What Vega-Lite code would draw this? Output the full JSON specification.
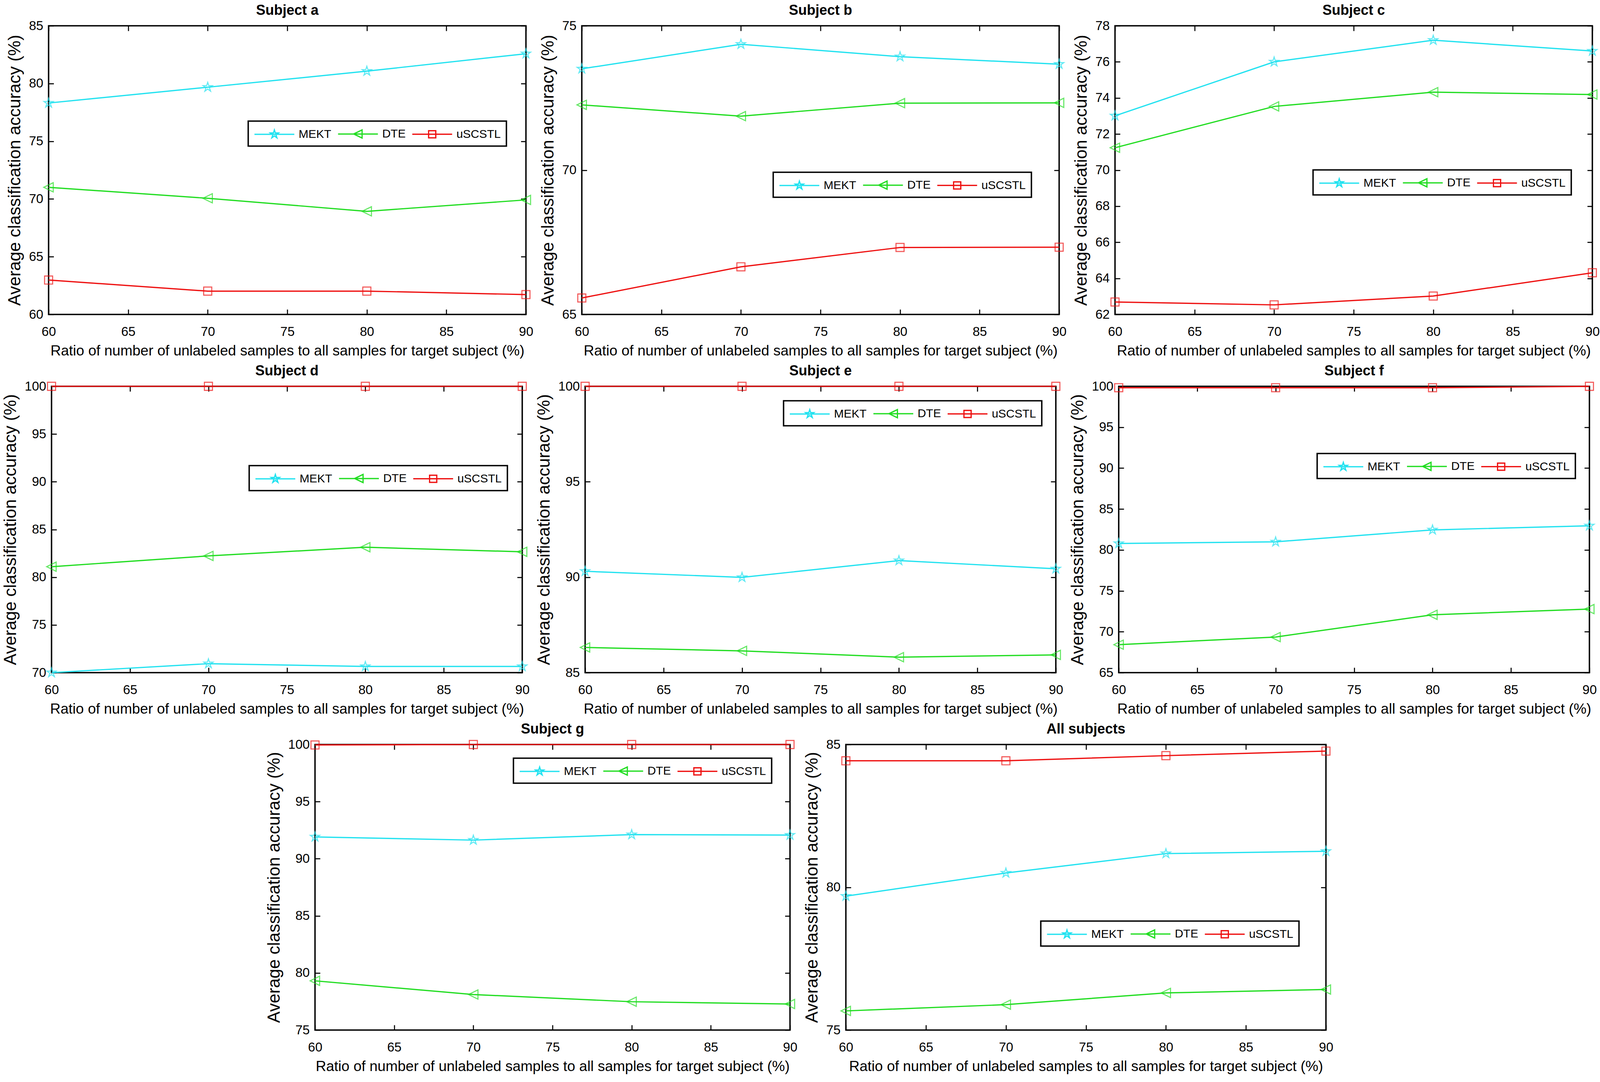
{
  "$schema": "https://vega.github.io/schema/vega-lite/v6.json",
  "background": "white",
  "padding": {"left": 4, "top": 7, "right": 0, "bottom": 0},
  "data": {"values": [
    {"subject":"Subject a","method":"MEKT","ratio":60,"accuracy":78.31},
    {"subject":"Subject a","method":"MEKT","ratio":70,"accuracy":79.68},
    {"subject":"Subject a","method":"MEKT","ratio":80,"accuracy":81.07},
    {"subject":"Subject a","method":"MEKT","ratio":90,"accuracy":82.58},
    {"subject":"Subject a","method":"DTE","ratio":60,"accuracy":71.01},
    {"subject":"Subject a","method":"DTE","ratio":70,"accuracy":70.06},
    {"subject":"Subject a","method":"DTE","ratio":80,"accuracy":68.93},
    {"subject":"Subject a","method":"DTE","ratio":90,"accuracy":69.92},
    {"subject":"Subject a","method":"uSCSTL","ratio":60,"accuracy":62.98},
    {"subject":"Subject a","method":"uSCSTL","ratio":70,"accuracy":62.02},
    {"subject":"Subject a","method":"uSCSTL","ratio":80,"accuracy":62.02},
    {"subject":"Subject a","method":"uSCSTL","ratio":90,"accuracy":61.72},
    {"subject":"Subject b","method":"MEKT","ratio":60,"accuracy":73.51},
    {"subject":"Subject b","method":"MEKT","ratio":70,"accuracy":74.36},
    {"subject":"Subject b","method":"MEKT","ratio":80,"accuracy":73.93},
    {"subject":"Subject b","method":"MEKT","ratio":90,"accuracy":73.67},
    {"subject":"Subject b","method":"DTE","ratio":60,"accuracy":72.26},
    {"subject":"Subject b","method":"DTE","ratio":70,"accuracy":71.87},
    {"subject":"Subject b","method":"DTE","ratio":80,"accuracy":72.32},
    {"subject":"Subject b","method":"DTE","ratio":90,"accuracy":72.33},
    {"subject":"Subject b","method":"uSCSTL","ratio":60,"accuracy":65.57},
    {"subject":"Subject b","method":"uSCSTL","ratio":70,"accuracy":66.65},
    {"subject":"Subject b","method":"uSCSTL","ratio":80,"accuracy":67.32},
    {"subject":"Subject b","method":"uSCSTL","ratio":90,"accuracy":67.33},
    {"subject":"Subject c","method":"MEKT","ratio":60,"accuracy":73.01},
    {"subject":"Subject c","method":"MEKT","ratio":70,"accuracy":76.0},
    {"subject":"Subject c","method":"MEKT","ratio":80,"accuracy":77.2},
    {"subject":"Subject c","method":"MEKT","ratio":90,"accuracy":76.6},
    {"subject":"Subject c","method":"DTE","ratio":60,"accuracy":71.24},
    {"subject":"Subject c","method":"DTE","ratio":70,"accuracy":73.53},
    {"subject":"Subject c","method":"DTE","ratio":80,"accuracy":74.32},
    {"subject":"Subject c","method":"DTE","ratio":90,"accuracy":74.19},
    {"subject":"Subject c","method":"uSCSTL","ratio":60,"accuracy":62.69},
    {"subject":"Subject c","method":"uSCSTL","ratio":70,"accuracy":62.53},
    {"subject":"Subject c","method":"uSCSTL","ratio":80,"accuracy":63.02},
    {"subject":"Subject c","method":"uSCSTL","ratio":90,"accuracy":64.31},
    {"subject":"Subject d","method":"MEKT","ratio":60,"accuracy":70.0},
    {"subject":"Subject d","method":"MEKT","ratio":70,"accuracy":70.94},
    {"subject":"Subject d","method":"MEKT","ratio":80,"accuracy":70.65},
    {"subject":"Subject d","method":"MEKT","ratio":90,"accuracy":70.65},
    {"subject":"Subject d","method":"DTE","ratio":60,"accuracy":81.1},
    {"subject":"Subject d","method":"DTE","ratio":70,"accuracy":82.23},
    {"subject":"Subject d","method":"DTE","ratio":80,"accuracy":83.14},
    {"subject":"Subject d","method":"DTE","ratio":90,"accuracy":82.66},
    {"subject":"Subject d","method":"uSCSTL","ratio":60,"accuracy":100},
    {"subject":"Subject d","method":"uSCSTL","ratio":70,"accuracy":100},
    {"subject":"Subject d","method":"uSCSTL","ratio":80,"accuracy":100},
    {"subject":"Subject d","method":"uSCSTL","ratio":90,"accuracy":100},
    {"subject":"Subject e","method":"MEKT","ratio":60,"accuracy":90.31},
    {"subject":"Subject e","method":"MEKT","ratio":70,"accuracy":89.99},
    {"subject":"Subject e","method":"MEKT","ratio":80,"accuracy":90.87},
    {"subject":"Subject e","method":"MEKT","ratio":90,"accuracy":90.44},
    {"subject":"Subject e","method":"DTE","ratio":60,"accuracy":86.32},
    {"subject":"Subject e","method":"DTE","ratio":70,"accuracy":86.14},
    {"subject":"Subject e","method":"DTE","ratio":80,"accuracy":85.81},
    {"subject":"Subject e","method":"DTE","ratio":90,"accuracy":85.93},
    {"subject":"Subject e","method":"uSCSTL","ratio":60,"accuracy":100},
    {"subject":"Subject e","method":"uSCSTL","ratio":70,"accuracy":100},
    {"subject":"Subject e","method":"uSCSTL","ratio":80,"accuracy":100},
    {"subject":"Subject e","method":"uSCSTL","ratio":90,"accuracy":100},
    {"subject":"Subject f","method":"MEKT","ratio":60,"accuracy":80.79},
    {"subject":"Subject f","method":"MEKT","ratio":70,"accuracy":80.99},
    {"subject":"Subject f","method":"MEKT","ratio":80,"accuracy":82.45},
    {"subject":"Subject f","method":"MEKT","ratio":90,"accuracy":82.95},
    {"subject":"Subject f","method":"DTE","ratio":60,"accuracy":68.42},
    {"subject":"Subject f","method":"DTE","ratio":70,"accuracy":69.35},
    {"subject":"Subject f","method":"DTE","ratio":80,"accuracy":72.07},
    {"subject":"Subject f","method":"DTE","ratio":90,"accuracy":72.77},
    {"subject":"Subject f","method":"uSCSTL","ratio":60,"accuracy":99.83},
    {"subject":"Subject f","method":"uSCSTL","ratio":70,"accuracy":99.83},
    {"subject":"Subject f","method":"uSCSTL","ratio":80,"accuracy":99.83},
    {"subject":"Subject f","method":"uSCSTL","ratio":90,"accuracy":100},
    {"subject":"Subject g","method":"MEKT","ratio":60,"accuracy":91.91},
    {"subject":"Subject g","method":"MEKT","ratio":70,"accuracy":91.63},
    {"subject":"Subject g","method":"MEKT","ratio":80,"accuracy":92.11},
    {"subject":"Subject g","method":"MEKT","ratio":90,"accuracy":92.07},
    {"subject":"Subject g","method":"DTE","ratio":60,"accuracy":79.31},
    {"subject":"Subject g","method":"DTE","ratio":70,"accuracy":78.11},
    {"subject":"Subject g","method":"DTE","ratio":80,"accuracy":77.48},
    {"subject":"Subject g","method":"DTE","ratio":90,"accuracy":77.28},
    {"subject":"Subject g","method":"uSCSTL","ratio":60,"accuracy":99.96},
    {"subject":"Subject g","method":"uSCSTL","ratio":70,"accuracy":100},
    {"subject":"Subject g","method":"uSCSTL","ratio":80,"accuracy":100},
    {"subject":"Subject g","method":"uSCSTL","ratio":90,"accuracy":100},
    {"subject":"All subjects","method":"MEKT","ratio":60,"accuracy":79.69},
    {"subject":"All subjects","method":"MEKT","ratio":70,"accuracy":80.5},
    {"subject":"All subjects","method":"MEKT","ratio":80,"accuracy":81.18},
    {"subject":"All subjects","method":"MEKT","ratio":90,"accuracy":81.26},
    {"subject":"All subjects","method":"DTE","ratio":60,"accuracy":75.67},
    {"subject":"All subjects","method":"DTE","ratio":70,"accuracy":75.89},
    {"subject":"All subjects","method":"DTE","ratio":80,"accuracy":76.3},
    {"subject":"All subjects","method":"DTE","ratio":90,"accuracy":76.42},
    {"subject":"All subjects","method":"uSCSTL","ratio":60,"accuracy":84.43},
    {"subject":"All subjects","method":"uSCSTL","ratio":70,"accuracy":84.43},
    {"subject":"All subjects","method":"uSCSTL","ratio":80,"accuracy":84.61},
    {"subject":"All subjects","method":"uSCSTL","ratio":90,"accuracy":84.77}
  ]},
  "config": {
    "view": {"stroke": "black", "strokeWidth": 3.6},
    "title": {"font": "Liberation Sans", "fontSize": 36, "fontWeight": "bold", "color": "black", "offset": 0},
    "axis": {"labelFont": "Liberation Sans", "labelFontSize": 33, "labelColor": "black", "labelFlush": false, "titleFont": "Liberation Sans", "titleFontWeight": "normal", "titleColor": "black", "tickColor": "black", "tickWidth": 2.7, "tickSize": -13, "domain": false, "grid": false},
    "axisX": {"labelPadding": 41, "titleFontSize": 37, "titlePadding": 14},
    "axisY": {"labelPadding": 27, "titleFontSize": 44, "titlePadding": 13},
    "legend": {"labelFont": "Liberation Sans", "labelFontSize": 30, "labelColor": "black", "strokeColor": "black", "strokeWidth": 3.6, "fillColor": "white", "padding": 14, "symbolSize": 1156, "symbolStrokeWidth": 3.2, "symbolOpacity": 1, "labelOffset": 77, "columnPadding": 10, "direction": "horizontal", "orient": "none"}
  },
  "vconcat": [
    {"hconcat": [
      {"title": "Subject a", "width": 1222, "height": 739,
       "transform": [{"filter": {"field": "subject", "equal": "Subject a"}}],
       "resolve": {"scale": {"color": "independent", "shape": "independent"}, "axis": {"x": "independent", "y": "independent"}},
       "layer": [
        {"mark": {"type": "line", "strokeWidth": 3.2, "clip": false},
         "encoding": {
          "x": {"field": "ratio", "type": "quantitative", "scale": {"domain": [60, 90], "nice": false, "zero": false}, "axis": {"orient": "bottom", "values": [60,65,70,75,80,85,90], "title": "Ratio of number of unlabeled samples to all samples for target subject (%)"}},
          "y": {"field": "accuracy", "type": "quantitative", "scale": {"domain": [60, 85], "nice": false, "zero": false}, "axis": {"orient": "left", "values": [60,65,70,75,80,85], "title": "Average classification accuracy (%)"}},
          "color": {"field": "method", "type": "nominal", "scale": {"domain": ["MEKT","DTE","uSCSTL"], "range": ["#22E2F0","#22DD22","#EE1111"]}, "legend": null}}},
        {"mark": {"type": "point", "filled": false, "size": 620, "strokeWidth": 2.7, "clip": false},
         "encoding": {
          "x": {"field": "ratio", "type": "quantitative", "axis": {"orient": "top", "values": [60,65,70,75,80,85,90], "labels": false, "title": null}},
          "y": {"field": "accuracy", "type": "quantitative", "axis": {"orient": "right", "values": [60,65,70,75,80,85], "labels": false, "title": null}},
          "color": {"field": "method", "type": "nominal", "scale": {"domain": ["MEKT","DTE","uSCSTL"], "range": ["#22E2F0","#22DD22","#EE1111"]}, "legend": null},
          "shape": {"field": "method", "type": "nominal", "scale": {"domain": ["MEKT","DTE","uSCSTL"], "range": ["M0,-1L0.2233,-0.3074L0.951,-0.309L0.3614,0.1174L0.588,0.809L0,0.38L-0.588,0.809L-0.3614,0.1174L-0.951,-0.309L-0.2233,-0.3074Z","M-1,0L0.95,-0.95L0.95,0.95Z","M-0.83,-0.83L0.83,-0.83L0.83,0.83L-0.83,0.83Z"]}, "legend": null}}},
        {"mark": {"type": "point", "filled": false, "size": 1156, "strokeWidth": 3.2},
         "transform": [{"filter": {"field": "accuracy", "lt": 0}}],
         "encoding": {
          "x": {"field": "ratio", "type": "quantitative", "axis": null},
          "y": {"field": "accuracy", "type": "quantitative", "axis": null},
          "color": {"field": "method", "type": "nominal", "scale": {"domain": ["MEKT","DTE","uSCSTL"], "range": ["#22E2F0","#22DD22","#EE1111"]}, "legend": {"title": null, "orient": "none", "legendX": 511, "legendY": 244, "direction": "horizontal"}},
          "shape": {"field": "method", "type": "nominal", "scale": {"domain": ["MEKT","DTE","uSCSTL"], "range": ["M-1,0L5,0M2,-0.65L2.145,-0.2L2.618,-0.201L2.235,0.076L2.382,0.526L2,0.247L1.618,0.526L1.765,0.076L1.382,-0.201L1.855,-0.2Z","M-1,0L5,0M1.35,0L2.618,-0.618L2.618,0.618Z","M-1,0L5,0M1.46,-0.54L2.54,-0.54L2.54,0.54L1.46,0.54Z"]}, "legend": {"title": null, "orient": "none", "legendX": 511, "legendY": 244, "direction": "horizontal"}}}}
       ]},
      {"title": "Subject b", "width": 1222, "height": 739,
       "transform": [{"filter": {"field": "subject", "equal": "Subject b"}}],
       "resolve": {"scale": {"color": "independent", "shape": "independent"}, "axis": {"x": "independent", "y": "independent"}},
       "layer": [
        {"mark": {"type": "line", "strokeWidth": 3.2, "clip": false},
         "encoding": {
          "x": {"field": "ratio", "type": "quantitative", "scale": {"domain": [60, 90], "nice": false, "zero": false}, "axis": {"orient": "bottom", "values": [60,65,70,75,80,85,90], "title": "Ratio of number of unlabeled samples to all samples for target subject (%)"}},
          "y": {"field": "accuracy", "type": "quantitative", "scale": {"domain": [65, 75], "nice": false, "zero": false}, "axis": {"orient": "left", "values": [65,70,75], "title": "Average classification accuracy (%)"}},
          "color": {"field": "method", "type": "nominal", "scale": {"domain": ["MEKT","DTE","uSCSTL"], "range": ["#22E2F0","#22DD22","#EE1111"]}, "legend": null}}},
        {"mark": {"type": "point", "filled": false, "size": 620, "strokeWidth": 2.7, "clip": false},
         "encoding": {
          "x": {"field": "ratio", "type": "quantitative", "axis": {"orient": "top", "values": [60,65,70,75,80,85,90], "labels": false, "title": null}},
          "y": {"field": "accuracy", "type": "quantitative", "axis": {"orient": "right", "values": [65,70,75], "labels": false, "title": null}},
          "color": {"field": "method", "type": "nominal", "scale": {"domain": ["MEKT","DTE","uSCSTL"], "range": ["#22E2F0","#22DD22","#EE1111"]}, "legend": null},
          "shape": {"field": "method", "type": "nominal", "scale": {"domain": ["MEKT","DTE","uSCSTL"], "range": ["M0,-1L0.2233,-0.3074L0.951,-0.309L0.3614,0.1174L0.588,0.809L0,0.38L-0.588,0.809L-0.3614,0.1174L-0.951,-0.309L-0.2233,-0.3074Z","M-1,0L0.95,-0.95L0.95,0.95Z","M-0.83,-0.83L0.83,-0.83L0.83,0.83L-0.83,0.83Z"]}, "legend": null}}},
        {"mark": {"type": "point", "filled": false, "size": 1156, "strokeWidth": 3.2},
         "transform": [{"filter": {"field": "accuracy", "lt": 0}}],
         "encoding": {
          "x": {"field": "ratio", "type": "quantitative", "axis": null},
          "y": {"field": "accuracy", "type": "quantitative", "axis": null},
          "color": {"field": "method", "type": "nominal", "scale": {"domain": ["MEKT","DTE","uSCSTL"], "range": ["#22E2F0","#22DD22","#EE1111"]}, "legend": {"title": null, "orient": "none", "legendX": 490, "legendY": 375, "direction": "horizontal"}},
          "shape": {"field": "method", "type": "nominal", "scale": {"domain": ["MEKT","DTE","uSCSTL"], "range": ["M-1,0L5,0M2,-0.65L2.145,-0.2L2.618,-0.201L2.235,0.076L2.382,0.526L2,0.247L1.618,0.526L1.765,0.076L1.382,-0.201L1.855,-0.2Z","M-1,0L5,0M1.35,0L2.618,-0.618L2.618,0.618Z","M-1,0L5,0M1.46,-0.54L2.54,-0.54L2.54,0.54L1.46,0.54Z"]}, "legend": {"title": null, "orient": "none", "legendX": 490, "legendY": 375, "direction": "horizontal"}}}}
       ]},
      {"title": "Subject c", "width": 1222, "height": 739,
       "transform": [{"filter": {"field": "subject", "equal": "Subject c"}}],
       "resolve": {"scale": {"color": "independent", "shape": "independent"}, "axis": {"x": "independent", "y": "independent"}},
       "layer": [
        {"mark": {"type": "line", "strokeWidth": 3.2, "clip": false},
         "encoding": {
          "x": {"field": "ratio", "type": "quantitative", "scale": {"domain": [60, 90], "nice": false, "zero": false}, "axis": {"orient": "bottom", "values": [60,65,70,75,80,85,90], "title": "Ratio of number of unlabeled samples to all samples for target subject (%)"}},
          "y": {"field": "accuracy", "type": "quantitative", "scale": {"domain": [62, 78], "nice": false, "zero": false}, "axis": {"orient": "left", "values": [62,64,66,68,70,72,74,76,78], "title": "Average classification accuracy (%)"}},
          "color": {"field": "method", "type": "nominal", "scale": {"domain": ["MEKT","DTE","uSCSTL"], "range": ["#22E2F0","#22DD22","#EE1111"]}, "legend": null}}},
        {"mark": {"type": "point", "filled": false, "size": 620, "strokeWidth": 2.7, "clip": false},
         "encoding": {
          "x": {"field": "ratio", "type": "quantitative", "axis": {"orient": "top", "values": [60,65,70,75,80,85,90], "labels": false, "title": null}},
          "y": {"field": "accuracy", "type": "quantitative", "axis": {"orient": "right", "values": [62,64,66,68,70,72,74,76,78], "labels": false, "title": null}},
          "color": {"field": "method", "type": "nominal", "scale": {"domain": ["MEKT","DTE","uSCSTL"], "range": ["#22E2F0","#22DD22","#EE1111"]}, "legend": null},
          "shape": {"field": "method", "type": "nominal", "scale": {"domain": ["MEKT","DTE","uSCSTL"], "range": ["M0,-1L0.2233,-0.3074L0.951,-0.309L0.3614,0.1174L0.588,0.809L0,0.38L-0.588,0.809L-0.3614,0.1174L-0.951,-0.309L-0.2233,-0.3074Z","M-1,0L0.95,-0.95L0.95,0.95Z","M-0.83,-0.83L0.83,-0.83L0.83,0.83L-0.83,0.83Z"]}, "legend": null}}},
        {"mark": {"type": "point", "filled": false, "size": 1156, "strokeWidth": 3.2},
         "transform": [{"filter": {"field": "accuracy", "lt": 0}}],
         "encoding": {
          "x": {"field": "ratio", "type": "quantitative", "axis": null},
          "y": {"field": "accuracy", "type": "quantitative", "axis": null},
          "color": {"field": "method", "type": "nominal", "scale": {"domain": ["MEKT","DTE","uSCSTL"], "range": ["#22E2F0","#22DD22","#EE1111"]}, "legend": {"title": null, "orient": "none", "legendX": 507, "legendY": 369, "direction": "horizontal"}},
          "shape": {"field": "method", "type": "nominal", "scale": {"domain": ["MEKT","DTE","uSCSTL"], "range": ["M-1,0L5,0M2,-0.65L2.145,-0.2L2.618,-0.201L2.235,0.076L2.382,0.526L2,0.247L1.618,0.526L1.765,0.076L1.382,-0.201L1.855,-0.2Z","M-1,0L5,0M1.35,0L2.618,-0.618L2.618,0.618Z","M-1,0L5,0M1.46,-0.54L2.54,-0.54L2.54,0.54L1.46,0.54Z"]}, "legend": {"title": null, "orient": "none", "legendX": 507, "legendY": 369, "direction": "horizontal"}}}}
       ]}
    ], "spacing": 12, "resolve": {"scale": {"color": "independent", "shape": "independent"}, "legend": {"color": "independent", "shape": "independent"}}},
    {"hconcat": [
      {"title": "Subject d", "width": 1205, "height": 733,
       "transform": [{"filter": {"field": "subject", "equal": "Subject d"}}],
       "resolve": {"scale": {"color": "independent", "shape": "independent"}, "axis": {"x": "independent", "y": "independent"}},
       "layer": [
        {"mark": {"type": "line", "strokeWidth": 3.2, "clip": false},
         "encoding": {
          "x": {"field": "ratio", "type": "quantitative", "scale": {"domain": [60, 90], "nice": false, "zero": false}, "axis": {"orient": "bottom", "values": [60,65,70,75,80,85,90], "title": "Ratio of number of unlabeled samples to all samples for target subject (%)"}},
          "y": {"field": "accuracy", "type": "quantitative", "scale": {"domain": [70, 100], "nice": false, "zero": false}, "axis": {"orient": "left", "values": [70,75,80,85,90,95,100], "title": "Average classification accuracy (%)"}},
          "color": {"field": "method", "type": "nominal", "scale": {"domain": ["MEKT","DTE","uSCSTL"], "range": ["#22E2F0","#22DD22","#EE1111"]}, "legend": null}}},
        {"mark": {"type": "point", "filled": false, "size": 620, "strokeWidth": 2.7, "clip": false},
         "encoding": {
          "x": {"field": "ratio", "type": "quantitative", "axis": {"orient": "top", "values": [60,65,70,75,80,85,90], "labels": false, "title": null}},
          "y": {"field": "accuracy", "type": "quantitative", "axis": {"orient": "right", "values": [70,75,80,85,90,95,100], "labels": false, "title": null}},
          "color": {"field": "method", "type": "nominal", "scale": {"domain": ["MEKT","DTE","uSCSTL"], "range": ["#22E2F0","#22DD22","#EE1111"]}, "legend": null},
          "shape": {"field": "method", "type": "nominal", "scale": {"domain": ["MEKT","DTE","uSCSTL"], "range": ["M0,-1L0.2233,-0.3074L0.951,-0.309L0.3614,0.1174L0.588,0.809L0,0.38L-0.588,0.809L-0.3614,0.1174L-0.951,-0.309L-0.2233,-0.3074Z","M-1,0L0.95,-0.95L0.95,0.95Z","M-0.83,-0.83L0.83,-0.83L0.83,0.83L-0.83,0.83Z"]}, "legend": null}}},
        {"mark": {"type": "point", "filled": false, "size": 1156, "strokeWidth": 3.2},
         "transform": [{"filter": {"field": "accuracy", "lt": 0}}],
         "encoding": {
          "x": {"field": "ratio", "type": "quantitative", "axis": null},
          "y": {"field": "accuracy", "type": "quantitative", "axis": null},
          "color": {"field": "method", "type": "nominal", "scale": {"domain": ["MEKT","DTE","uSCSTL"], "range": ["#22E2F0","#22DD22","#EE1111"]}, "legend": {"title": null, "orient": "none", "legendX": 506, "legendY": 203, "direction": "horizontal"}},
          "shape": {"field": "method", "type": "nominal", "scale": {"domain": ["MEKT","DTE","uSCSTL"], "range": ["M-1,0L5,0M2,-0.65L2.145,-0.2L2.618,-0.201L2.235,0.076L2.382,0.526L2,0.247L1.618,0.526L1.765,0.076L1.382,-0.201L1.855,-0.2Z","M-1,0L5,0M1.35,0L2.618,-0.618L2.618,0.618Z","M-1,0L5,0M1.46,-0.54L2.54,-0.54L2.54,0.54L1.46,0.54Z"]}, "legend": {"title": null, "orient": "none", "legendX": 506, "legendY": 203, "direction": "horizontal"}}}}
       ]},
      {"title": "Subject e", "width": 1205, "height": 733,
       "transform": [{"filter": {"field": "subject", "equal": "Subject e"}}],
       "resolve": {"scale": {"color": "independent", "shape": "independent"}, "axis": {"x": "independent", "y": "independent"}},
       "layer": [
        {"mark": {"type": "line", "strokeWidth": 3.2, "clip": false},
         "encoding": {
          "x": {"field": "ratio", "type": "quantitative", "scale": {"domain": [60, 90], "nice": false, "zero": false}, "axis": {"orient": "bottom", "values": [60,65,70,75,80,85,90], "title": "Ratio of number of unlabeled samples to all samples for target subject (%)"}},
          "y": {"field": "accuracy", "type": "quantitative", "scale": {"domain": [85, 100], "nice": false, "zero": false}, "axis": {"orient": "left", "values": [85,90,95,100], "title": "Average classification accuracy (%)"}},
          "color": {"field": "method", "type": "nominal", "scale": {"domain": ["MEKT","DTE","uSCSTL"], "range": ["#22E2F0","#22DD22","#EE1111"]}, "legend": null}}},
        {"mark": {"type": "point", "filled": false, "size": 620, "strokeWidth": 2.7, "clip": false},
         "encoding": {
          "x": {"field": "ratio", "type": "quantitative", "axis": {"orient": "top", "values": [60,65,70,75,80,85,90], "labels": false, "title": null}},
          "y": {"field": "accuracy", "type": "quantitative", "axis": {"orient": "right", "values": [85,90,95,100], "labels": false, "title": null}},
          "color": {"field": "method", "type": "nominal", "scale": {"domain": ["MEKT","DTE","uSCSTL"], "range": ["#22E2F0","#22DD22","#EE1111"]}, "legend": null},
          "shape": {"field": "method", "type": "nominal", "scale": {"domain": ["MEKT","DTE","uSCSTL"], "range": ["M0,-1L0.2233,-0.3074L0.951,-0.309L0.3614,0.1174L0.588,0.809L0,0.38L-0.588,0.809L-0.3614,0.1174L-0.951,-0.309L-0.2233,-0.3074Z","M-1,0L0.95,-0.95L0.95,0.95Z","M-0.83,-0.83L0.83,-0.83L0.83,0.83L-0.83,0.83Z"]}, "legend": null}}},
        {"mark": {"type": "point", "filled": false, "size": 1156, "strokeWidth": 3.2},
         "transform": [{"filter": {"field": "accuracy", "lt": 0}}],
         "encoding": {
          "x": {"field": "ratio", "type": "quantitative", "axis": null},
          "y": {"field": "accuracy", "type": "quantitative", "axis": null},
          "color": {"field": "method", "type": "nominal", "scale": {"domain": ["MEKT","DTE","uSCSTL"], "range": ["#22E2F0","#22DD22","#EE1111"]}, "legend": {"title": null, "orient": "none", "legendX": 508, "legendY": 37, "direction": "horizontal"}},
          "shape": {"field": "method", "type": "nominal", "scale": {"domain": ["MEKT","DTE","uSCSTL"], "range": ["M-1,0L5,0M2,-0.65L2.145,-0.2L2.618,-0.201L2.235,0.076L2.382,0.526L2,0.247L1.618,0.526L1.765,0.076L1.382,-0.201L1.855,-0.2Z","M-1,0L5,0M1.35,0L2.618,-0.618L2.618,0.618Z","M-1,0L5,0M1.46,-0.54L2.54,-0.54L2.54,0.54L1.46,0.54Z"]}, "legend": {"title": null, "orient": "none", "legendX": 508, "legendY": 37, "direction": "horizontal"}}}}
       ]},
      {"title": "Subject f", "width": 1205, "height": 733,
       "transform": [{"filter": {"field": "subject", "equal": "Subject f"}}],
       "resolve": {"scale": {"color": "independent", "shape": "independent"}, "axis": {"x": "independent", "y": "independent"}},
       "layer": [
        {"mark": {"type": "line", "strokeWidth": 3.2, "clip": false},
         "encoding": {
          "x": {"field": "ratio", "type": "quantitative", "scale": {"domain": [60, 90], "nice": false, "zero": false}, "axis": {"orient": "bottom", "values": [60,65,70,75,80,85,90], "title": "Ratio of number of unlabeled samples to all samples for target subject (%)"}},
          "y": {"field": "accuracy", "type": "quantitative", "scale": {"domain": [65, 100], "nice": false, "zero": false}, "axis": {"orient": "left", "values": [65,70,75,80,85,90,95,100], "title": "Average classification accuracy (%)"}},
          "color": {"field": "method", "type": "nominal", "scale": {"domain": ["MEKT","DTE","uSCSTL"], "range": ["#22E2F0","#22DD22","#EE1111"]}, "legend": null}}},
        {"mark": {"type": "point", "filled": false, "size": 620, "strokeWidth": 2.7, "clip": false},
         "encoding": {
          "x": {"field": "ratio", "type": "quantitative", "axis": {"orient": "top", "values": [60,65,70,75,80,85,90], "labels": false, "title": null}},
          "y": {"field": "accuracy", "type": "quantitative", "axis": {"orient": "right", "values": [65,70,75,80,85,90,95,100], "labels": false, "title": null}},
          "color": {"field": "method", "type": "nominal", "scale": {"domain": ["MEKT","DTE","uSCSTL"], "range": ["#22E2F0","#22DD22","#EE1111"]}, "legend": null},
          "shape": {"field": "method", "type": "nominal", "scale": {"domain": ["MEKT","DTE","uSCSTL"], "range": ["M0,-1L0.2233,-0.3074L0.951,-0.309L0.3614,0.1174L0.588,0.809L0,0.38L-0.588,0.809L-0.3614,0.1174L-0.951,-0.309L-0.2233,-0.3074Z","M-1,0L0.95,-0.95L0.95,0.95Z","M-0.83,-0.83L0.83,-0.83L0.83,0.83L-0.83,0.83Z"]}, "legend": null}}},
        {"mark": {"type": "point", "filled": false, "size": 1156, "strokeWidth": 3.2},
         "transform": [{"filter": {"field": "accuracy", "lt": 0}}],
         "encoding": {
          "x": {"field": "ratio", "type": "quantitative", "axis": null},
          "y": {"field": "accuracy", "type": "quantitative", "axis": null},
          "color": {"field": "method", "type": "nominal", "scale": {"domain": ["MEKT","DTE","uSCSTL"], "range": ["#22E2F0","#22DD22","#EE1111"]}, "legend": {"title": null, "orient": "none", "legendX": 508, "legendY": 172, "direction": "horizontal"}},
          "shape": {"field": "method", "type": "nominal", "scale": {"domain": ["MEKT","DTE","uSCSTL"], "range": ["M-1,0L5,0M2,-0.65L2.145,-0.2L2.618,-0.201L2.235,0.076L2.382,0.526L2,0.247L1.618,0.526L1.765,0.076L1.382,-0.201L1.855,-0.2Z","M-1,0L5,0M1.35,0L2.618,-0.618L2.618,0.618Z","M-1,0L5,0M1.46,-0.54L2.54,-0.54L2.54,0.54L1.46,0.54Z"]}, "legend": {"title": null, "orient": "none", "legendX": 508, "legendY": 172, "direction": "horizontal"}}}}
       ]}
    ], "spacing": 12, "resolve": {"scale": {"color": "independent", "shape": "independent"}, "legend": {"color": "independent", "shape": "independent"}}},
    {"hconcat": [
      {"title": "Subject g", "width": 1216, "height": 731,
       "transform": [{"filter": {"field": "subject", "equal": "Subject g"}}],
       "resolve": {"scale": {"color": "independent", "shape": "independent"}, "axis": {"x": "independent", "y": "independent"}},
       "layer": [
        {"mark": {"type": "line", "strokeWidth": 3.2, "clip": false},
         "encoding": {
          "x": {"field": "ratio", "type": "quantitative", "scale": {"domain": [60, 90], "nice": false, "zero": false}, "axis": {"orient": "bottom", "values": [60,65,70,75,80,85,90], "title": "Ratio of number of unlabeled samples to all samples for target subject (%)"}},
          "y": {"field": "accuracy", "type": "quantitative", "scale": {"domain": [75, 100], "nice": false, "zero": false}, "axis": {"orient": "left", "values": [75,80,85,90,95,100], "title": "Average classification accuracy (%)"}},
          "color": {"field": "method", "type": "nominal", "scale": {"domain": ["MEKT","DTE","uSCSTL"], "range": ["#22E2F0","#22DD22","#EE1111"]}, "legend": null}}},
        {"mark": {"type": "point", "filled": false, "size": 620, "strokeWidth": 2.7, "clip": false},
         "encoding": {
          "x": {"field": "ratio", "type": "quantitative", "axis": {"orient": "top", "values": [60,65,70,75,80,85,90], "labels": false, "title": null}},
          "y": {"field": "accuracy", "type": "quantitative", "axis": {"orient": "right", "values": [75,80,85,90,95,100], "labels": false, "title": null}},
          "color": {"field": "method", "type": "nominal", "scale": {"domain": ["MEKT","DTE","uSCSTL"], "range": ["#22E2F0","#22DD22","#EE1111"]}, "legend": null},
          "shape": {"field": "method", "type": "nominal", "scale": {"domain": ["MEKT","DTE","uSCSTL"], "range": ["M0,-1L0.2233,-0.3074L0.951,-0.309L0.3614,0.1174L0.588,0.809L0,0.38L-0.588,0.809L-0.3614,0.1174L-0.951,-0.309L-0.2233,-0.3074Z","M-1,0L0.95,-0.95L0.95,0.95Z","M-0.83,-0.83L0.83,-0.83L0.83,0.83L-0.83,0.83Z"]}, "legend": null}}},
        {"mark": {"type": "point", "filled": false, "size": 1156, "strokeWidth": 3.2},
         "transform": [{"filter": {"field": "accuracy", "lt": 0}}],
         "encoding": {
          "x": {"field": "ratio", "type": "quantitative", "axis": null},
          "y": {"field": "accuracy", "type": "quantitative", "axis": {"orient": "left", "values": [74.5], "labels": false, "title": null, "domain": false, "ticks": true, "tickSize": 230, "tickWidth": 1, "tickColor": "white"}},
          "color": {"field": "method", "type": "nominal", "scale": {"domain": ["MEKT","DTE","uSCSTL"], "range": ["#22E2F0","#22DD22","#EE1111"]}, "legend": {"title": null, "orient": "none", "legendX": 508, "legendY": 35, "direction": "horizontal"}},
          "shape": {"field": "method", "type": "nominal", "scale": {"domain": ["MEKT","DTE","uSCSTL"], "range": ["M-1,0L5,0M2,-0.65L2.145,-0.2L2.618,-0.201L2.235,0.076L2.382,0.526L2,0.247L1.618,0.526L1.765,0.076L1.382,-0.201L1.855,-0.2Z","M-1,0L5,0M1.35,0L2.618,-0.618L2.618,0.618Z","M-1,0L5,0M1.46,-0.54L2.54,-0.54L2.54,0.54L1.46,0.54Z"]}, "legend": {"title": null, "orient": "none", "legendX": 508, "legendY": 35, "direction": "horizontal"}}}}
       ]},
      {"title": "All subjects", "width": 1229, "height": 731,
       "transform": [{"filter": {"field": "subject", "equal": "All subjects"}}],
       "resolve": {"scale": {"color": "independent", "shape": "independent"}, "axis": {"x": "independent", "y": "independent"}},
       "layer": [
        {"mark": {"type": "line", "strokeWidth": 3.2, "clip": false},
         "encoding": {
          "x": {"field": "ratio", "type": "quantitative", "scale": {"domain": [60, 90], "nice": false, "zero": false}, "axis": {"orient": "bottom", "values": [60,65,70,75,80,85,90], "title": "Ratio of number of unlabeled samples to all samples for target subject (%)"}},
          "y": {"field": "accuracy", "type": "quantitative", "scale": {"domain": [75, 85], "nice": false, "zero": false}, "axis": {"orient": "left", "values": [75,80,85], "title": "Average classification accuracy (%)"}},
          "color": {"field": "method", "type": "nominal", "scale": {"domain": ["MEKT","DTE","uSCSTL"], "range": ["#22E2F0","#22DD22","#EE1111"]}, "legend": null}}},
        {"mark": {"type": "point", "filled": false, "size": 620, "strokeWidth": 2.7, "clip": false},
         "encoding": {
          "x": {"field": "ratio", "type": "quantitative", "axis": {"orient": "top", "values": [60,65,70,75,80,85,90], "labels": false, "title": null}},
          "y": {"field": "accuracy", "type": "quantitative", "axis": {"orient": "right", "values": [75,80,85], "labels": false, "title": null}},
          "color": {"field": "method", "type": "nominal", "scale": {"domain": ["MEKT","DTE","uSCSTL"], "range": ["#22E2F0","#22DD22","#EE1111"]}, "legend": null},
          "shape": {"field": "method", "type": "nominal", "scale": {"domain": ["MEKT","DTE","uSCSTL"], "range": ["M0,-1L0.2233,-0.3074L0.951,-0.309L0.3614,0.1174L0.588,0.809L0,0.38L-0.588,0.809L-0.3614,0.1174L-0.951,-0.309L-0.2233,-0.3074Z","M-1,0L0.95,-0.95L0.95,0.95Z","M-0.83,-0.83L0.83,-0.83L0.83,0.83L-0.83,0.83Z"]}, "legend": null}}},
        {"mark": {"type": "point", "filled": false, "size": 1156, "strokeWidth": 3.2},
         "transform": [{"filter": {"field": "accuracy", "lt": 0}}],
         "encoding": {
          "x": {"field": "ratio", "type": "quantitative", "axis": null},
          "y": {"field": "accuracy", "type": "quantitative", "axis": null},
          "color": {"field": "method", "type": "nominal", "scale": {"domain": ["MEKT","DTE","uSCSTL"], "range": ["#22E2F0","#22DD22","#EE1111"]}, "legend": {"title": null, "orient": "none", "legendX": 499, "legendY": 452, "direction": "horizontal"}},
          "shape": {"field": "method", "type": "nominal", "scale": {"domain": ["MEKT","DTE","uSCSTL"], "range": ["M-1,0L5,0M2,-0.65L2.145,-0.2L2.618,-0.201L2.235,0.076L2.382,0.526L2,0.247L1.618,0.526L1.765,0.076L1.382,-0.201L1.855,-0.2Z","M-1,0L5,0M1.35,0L2.618,-0.618L2.618,0.618Z","M-1,0L5,0M1.46,-0.54L2.54,-0.54L2.54,0.54L1.46,0.54Z"]}, "legend": {"title": null, "orient": "none", "legendX": 499, "legendY": 452, "direction": "horizontal"}}}}
       ]}
    ], "spacing": 12, "resolve": {"scale": {"color": "independent", "shape": "independent"}, "legend": {"color": "independent", "shape": "independent"}}}
  ],
  "spacing": 12,
  "center": true,
  "resolve": {"scale": {"color": "independent", "shape": "independent"}, "legend": {"color": "independent", "shape": "independent"}}
}
